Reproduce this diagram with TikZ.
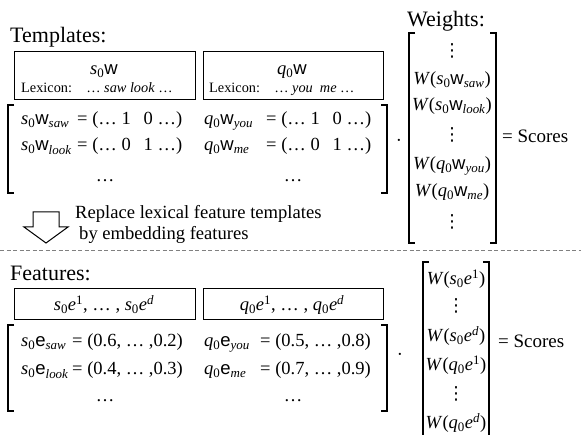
\documentclass[tikz,border=0pt]{standalone}
\usepackage{fontspec}
\setmainfont{Liberation Serif}
\newfontfamily\sansw{Liberation Sans}
\newfontfamily\dvfont{DejaVu Sans}
\newcommand{\Sb}[1]{\textsubscript{#1}}
\newcommand{\Sp}[1]{\textsuperscript{#1}}
\newcommand{\vw}{{\sansw w}}
\newcommand{\ve}{{\sansw e}}
\newcommand{\vd}{{\dvfont\fontsize{18}{20}\selectfont ⋮}}
\newcommand{\hdrsz}{\fontsize{22}{25}\selectfont}
\newcommand{\mainsz}{\fontsize{18.5}{21}\selectfont}
\newcommand{\lexsz}{\fontsize{14.3}{16}\selectfont}
\newcommand{\midsz}{\fontsize{18.6}{22}\selectfont}
\newcommand{\scsz}{\fontsize{19}{22}\selectfont}
\begin{document}
\begin{tikzpicture}[x=1pt,y=-1pt,
  txt/.style={inner sep=0pt, outer sep=0pt, font=\mainsz},
  hdr/.style={inner sep=0pt, font=\hdrsz, anchor=base west},
  ent/.style={inner sep=0pt, font=\mainsz, anchor=base west},
  lex/.style={inner sep=0pt, font=\lexsz, anchor=base west},
  wbox/.style={draw, line width=0.8pt, inner sep=0pt},
  brk/.style={line width=1.1pt},
  score/.style={inner sep=0pt, font=\scsz, anchor=base west},
  note/.style={inner sep=0pt, font=\midsz, anchor=west},
]
\useasboundingbox (0,0) rectangle (581,435);

% ---------- top section ----------
\node[hdr] (templ) at (10,43) {Templates:};
\node[hdr] (wts) at (407,27) {Weights:};

\node[wbox, minimum width=181pt, minimum height=48pt] (b1) at (104.5,75) {};
\node[wbox, minimum width=180pt, minimum height=48pt] (b2) at (293,75) {};
\node[txt, anchor=base] (b1t) at (104,75) {\textit{s}\Sb{0}\vw};
\node[lex] (b1l) at (21,93) {Lexicon:\quad … \textit{saw look} …};
\node[txt, anchor=base] (b2t) at (292,75) {\textit{q}\Sb{0}\vw};
\node[lex] (b2l) at (209,93) {Lexicon:\quad … \textit{you\ \ me} …};

\draw[brk] (14,105) -- (8,105) -- (8,193) -- (14,193);
\draw[brk] (381,105) -- (387,105) -- (387,193) -- (381,193);

\node[ent] (r1a) at (21,125) {\textit{s}\Sb{0}\vw\Sb{\textit{saw}}};
\node[ent] (r1b) at (77,125) {= (…\ 1\hspace{0.7em}0\ …)};
\node[ent] (r1c) at (204,125) {\textit{q}\Sb{0}\vw\Sb{\textit{you}}};
\node[ent] (r1d) at (266,125) {= (…\ 1\hspace{0.7em}0\ …)};
\node[ent] (r2a) at (21,151) {\textit{s}\Sb{0}\vw\Sb{\textit{look}}};
\node[ent] (r2b) at (77,151) {= (…\ 0\hspace{0.7em}1\ …)};
\node[ent] (r2c) at (204,151) {\textit{q}\Sb{0}\vw\Sb{\textit{me}}};
\node[ent] (r2d) at (266,151) {= (…\ 0\hspace{0.7em}1\ …)};
\node[txt, anchor=base] (r3a) at (105,182) {…};
\node[txt, anchor=base] (r3b) at (293,182) {…};

\node[txt, anchor=base] (dot1) at (399,147) {·};

\draw[brk] (415,33) -- (409,33) -- (409,243) -- (415,243);
\draw[brk] (490,33) -- (496,33) -- (496,243) -- (490,243);
\node[txt] (w1) at (452,51) {\vd};
\node[txt] (w2) at (452,80) {\textit{W}(\textit{s}\Sb{0}\vw\Sb{\textit{saw}})};
\node[txt] (w3) at (452,106) {\textit{W}(\textit{s}\Sb{0}\vw\Sb{\textit{look}})};
\node[txt] (w4) at (452,135) {\vd};
\node[txt] (w5) at (452,166) {\textit{W}(\textit{q}\Sb{0}\vw\Sb{\textit{you}})};
\node[txt] (w6) at (452,192) {\textit{W}(\textit{q}\Sb{0}\vw\Sb{\textit{me}})};
\node[txt] (w7) at (452,222) {\vd};

\node[score] (sc1) at (502,143) {= Scores};

% ---------- arrow and note ----------
\draw[line width=1pt, line join=miter] (33,212) -- (59,212) -- (59,227) -- (68,227)
  -- (46,243) -- (24,227) -- (33,227) -- cycle;
\node[note] (rep1) at (75,214) {Replace lexical feature templates};
\node[note] (rep2) at (79,235) {by embedding features};

\draw[gray, line width=0.7pt, dash pattern=on 4pt off 2.5pt] (0,250) -- (581,250);

% ---------- bottom section ----------
\node[hdr] (feat) at (10,281) {Features:};
\node[wbox, minimum width=181pt, minimum height=31pt] (b3) at (104.5,304) {};
\node[wbox, minimum width=180pt, minimum height=31pt] (b4) at (293,304) {};
\node[txt, anchor=base] (b3t) at (104,311) {\textit{s}\Sb{0}\textit{e}\Sp{1}, … , \textit{s}\Sb{0}\textit{e}\Sp{\textit{d}}};
\node[txt, anchor=base] (b4t) at (292,311) {\textit{q}\Sb{0}\textit{e}\Sp{1}, … , \textit{q}\Sb{0}\textit{e}\Sp{\textit{d}}};

\draw[brk] (14,325) -- (8,325) -- (8,411) -- (14,411);
\draw[brk] (381,325) -- (387,325) -- (387,411) -- (381,411);

\node[ent] (s1a) at (21,347) {\textit{s}\Sb{0}\ve\Sb{\textit{saw}}};
\node[ent] (s1b) at (72,347) {= (0.6, … ,0.2)};
\node[ent] (s1c) at (204,347) {\textit{q}\Sb{0}\ve\Sb{\textit{you}}};
\node[ent] (s1d) at (260,347) {= (0.5, … ,0.8)};
\node[ent] (s2a) at (21,375) {\textit{s}\Sb{0}\ve\Sb{\textit{look}}};
\node[ent] (s2b) at (72,375) {= (0.4, … ,0.3)};
\node[ent] (s2c) at (204,375) {\textit{q}\Sb{0}\ve\Sb{\textit{me}}};
\node[ent] (s2d) at (260,375) {= (0.7, … ,0.9)};
\node[txt, anchor=base] (s3a) at (105,402) {…};
\node[txt, anchor=base] (s3b) at (293,402) {…};

\node[txt, anchor=base] (dot2) at (400,361) {·};

\draw[brk] (429,262) -- (423,262) -- (423,435);
\draw[brk] (483,262) -- (489,262) -- (489,435);
\node[txt] (v1) at (456,279) {\textit{W}(\textit{s}\Sb{0}\textit{e}\Sp{1})};
\node[txt] (v2) at (456,306) {\vd};
\node[txt] (v3) at (456,336) {\textit{W}(\textit{s}\Sb{0}\textit{e}\Sp{\textit{d}})};
\node[txt] (v4) at (456,365) {\textit{W}(\textit{q}\Sb{0}\textit{e}\Sp{1})};
\node[txt] (v5) at (456,394) {\vd};
\node[txt] (v6) at (456,423) {\textit{W}(\textit{q}\Sb{0}\textit{e}\Sp{\textit{d}})};

\node[score] (sc2) at (498,348) {= Scores};
\end{tikzpicture}
\end{document}
